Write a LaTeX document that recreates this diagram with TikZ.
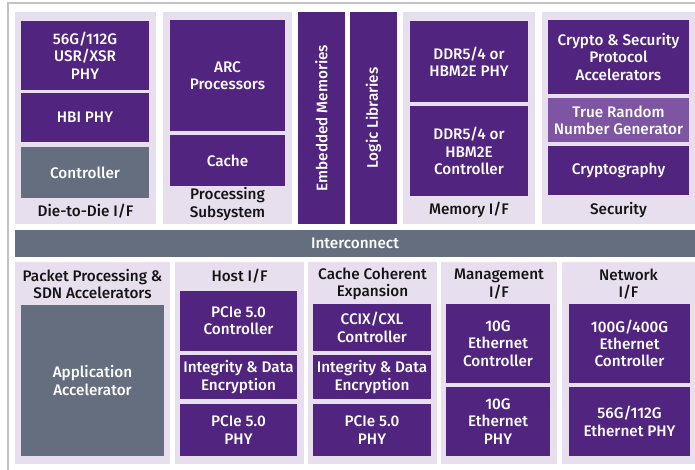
\documentclass[tikz,border=0pt]{standalone}
\usepackage{fontspec}
\setmainfont{Fira Sans Medium}
\definecolor{purp}{HTML}{512480}
\definecolor{purplt}{HTML}{7D55A2}
\definecolor{lav}{HTML}{E7DFEE}
\definecolor{slate}{HTML}{646E7F}
\definecolor{ink}{HTML}{141414}
\definecolor{framec}{HTML}{C2C2C2}
\newcommand\blkfont{\fontsize{15.3}{17.3}\selectfont}
\tikzset{
  panel/.style={fill=lav, draw=none, inner sep=0pt},
  blk/.style={fill=purp, text=white, align=center, inner sep=0pt, font=\blkfont},
  gblk/.style={blk, fill=slate},
  lblk/.style={blk, fill=purplt},
  lbl/.style={text=ink, align=center, inner sep=0pt, font=\blkfont},
}
\begin{document}
\begin{tikzpicture}[x=1pt, y=-1pt]
\useasboundingbox (0,0) rectangle (695,470);
% outer frame (open to the right and bottom)
\draw[framec, line width=2pt] (8,470) -- (8,3.5) -- (695,3.5);

% ---------- upper row ----------
% Die-to-Die
\node[panel, minimum width=141, minimum height=212] (pd2d) at (85.5,118) {};
\node[blk, minimum width=128, minimum height=69] (usr) at (85,55.5) {56G/112G\\USR/XSR\\PHY};
\node[blk, minimum width=128, minimum height=49] (hbi) at (85,117.5) {HBI PHY};
\node[gblk, minimum width=128, minimum height=51] (d2dctl) at (85,172.5) {Controller};
\node[lbl] (ld2d) at (85.5,211) {Die-to-Die I/F};

% Processing subsystem
\node[panel, minimum width=129, minimum height=212] (pproc) at (227.5,118) {};
\node[blk, minimum width=115, minimum height=111] (arc) at (227.5,75.5) {ARC\\Processors};
\node[blk, minimum width=115, minimum height=51] (cache) at (227.5,160.5) {Cache};
\node[lbl] (lproc) at (227.5,204) {Processing\\Subsystem};

% vertical columns
\node[blk, rotate=90, minimum width=212, minimum height=47] (emb) at (321.5,118) {Embedded Memories};
\node[blk, rotate=90, minimum width=212, minimum height=47] (logic) at (373.5,118) {Logic Libraries};

% Memory I/F
\node[panel, minimum width=132, minimum height=212] (pmem) at (469,118) {};
\node[blk, minimum width=118, minimum height=81] (ddrphy) at (469,61.5) {DDR5/4 or\\HBM2E PHY};
\node[blk, minimum width=118, minimum height=90] (ddrctl) at (469,151) {DDR5/4 or\\HBM2E\\Controller};
\node[lbl] (lmem) at (469,210) {Memory I/F};

% Security
\node[panel, minimum width=153, minimum height=212] (psec) at (618.5,118) {};
\node[blk, minimum width=141, minimum height=74] (csp) at (618.5,57) {Crypto \& Security\\Protocol\\Accelerators};
\node[lblk, minimum width=141, minimum height=44] (trng) at (618.5,120) {True Random\\Number Generator};
\node[blk, minimum width=141, minimum height=49] (crypt) at (618.5,170.5) {Cryptography};
\node[lbl] (lsec) at (618.5,210) {Security};

% ---------- interconnect ----------
\node[gblk, minimum width=680, minimum height=27] (ic) at (355,243.5) {Interconnect};

% ---------- lower row ----------
% Packet processing
\node[panel, minimum width=155, minimum height=202] (ppkt) at (92.5,363) {};
\node[lbl] (lpkt) at (92.5,284) {Packet Processing \&\\SDN Accelerators};
\node[gblk, minimum width=143, minimum height=151] (appacc) at (92.5,380.5) {Application\\Accelerator};

% Host I/F
\node[panel, minimum width=129, minimum height=202] (phost) at (239.5,363) {};
\node[lbl] (lhost) at (239.5,276.5) {Host I/F};
\node[blk, minimum width=117, minimum height=60] (pcictl) at (238.5,321) {PCIe 5.0\\Controller};
\node[blk, minimum width=117, minimum height=44] (ide1) at (238.5,377) {Integrity \& Data\\Encryption};
\node[blk, minimum width=117, minimum height=52] (pciphy1) at (238.5,430) {PCIe 5.0\\PHY};

% Cache coherent expansion
\node[panel, minimum width=129, minimum height=202] (pcce) at (372.5,363) {};
\node[lbl] (lcce) at (372.5,284) {Cache Coherent\\Expansion};
\node[blk, minimum width=118, minimum height=47] (ccix) at (372,327.5) {CCIX/CXL\\Controller};
\node[blk, minimum width=118, minimum height=44] (ide2) at (372,377) {Integrity \& Data\\Encryption};
\node[blk, minimum width=118, minimum height=52] (pciphy2) at (372,430) {PCIe 5.0\\PHY};

% Management I/F
\node[panel, minimum width=116, minimum height=202] (pmgmt) at (499,363) {};
\node[lbl] (lmgmt) at (499,284) {Management\\I/F};
\node[blk, minimum width=104, minimum height=79] (ethctl10) at (498,343.5) {10G\\Ethernet\\Controller};
\node[blk, minimum width=104, minimum height=69] (ethphy10) at (498,421.5) {10G\\Ethernet\\PHY};

% Network I/F
\node[panel, minimum width=133, minimum height=202] (pnet) at (628.5,363) {};
\node[lbl] (lnet) at (628.5,284) {Network\\I/F};
\node[blk, minimum width=121, minimum height=79] (ethctl400) at (629.5,343.5) {100G/400G\\Ethernet\\Controller};
\node[blk, minimum width=121, minimum height=69] (ethphy112) at (629.5,421.5) {56G/112G\\Ethernet PHY};
\end{tikzpicture}
\end{document}
